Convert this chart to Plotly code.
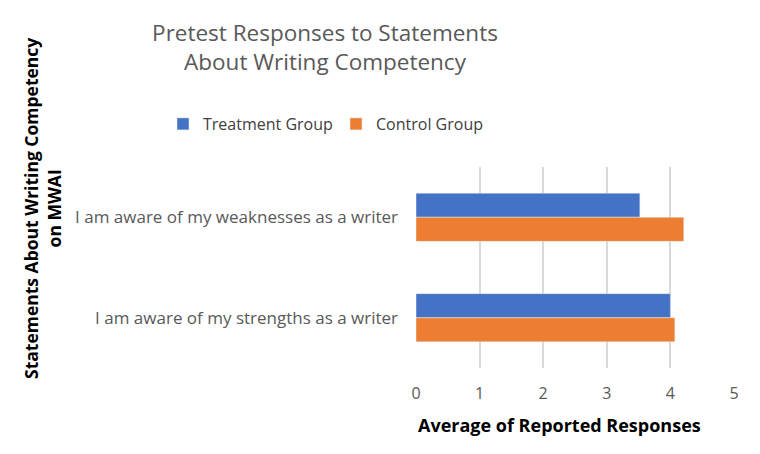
import plotly.graph_objects as go

statements = ["I am aware of my weaknesses as a writer",
              "I am aware of my strengths as a writer"]
treatment = [3.52, 4.0]
control = [4.21, 4.07]

blue = "#4472C4"
orange = "#ED7D31"
font = "Open Sans"

fig = go.Figure()
fig.add_trace(go.Bar(y=statements, x=treatment, orientation="h", name="Treatment Group",
                     marker={'color': blue}, legend="legend", showlegend=True))
fig.add_trace(go.Bar(y=statements, x=control, orientation="h", name="Control Group",
                     marker={'color': orange}, legend="legend2", showlegend=True))

legend_style = {'orientation': "h", 'xref': "container", 'yref': "container",
                'xanchor': "left", 'y': 1 - 124 / 454, 'yanchor': "middle",
                'font': {'size': 16, 'color': "#404040", 'family': font},
                'bgcolor': "rgba(0,0,0,0)", 'visible': True}

fig.update_layout(
    width=760, height=454, showlegend=True,
    margin={'l': 416, 'r': 26, 't': 167, 'b': 86},
    paper_bgcolor="white", plot_bgcolor="white",
    font={'family': font, 'color': "#595959", 'size': 16},
    barmode="group", bargap=0.52, bargroupgap=0,
    title={'text': "Pretest Responses to Statements<br>About Writing Competency",
           'xref': "container", 'x': 325 / 760, 'xanchor': "center",
           'yref': "container", 'y': 1 - 41 / 454, 'yanchor': "middle",
           'font': {'size': 22.5, 'color': "#595959", 'family': font}},
    legend=dict(legend_style, x=163 / 760),
    legend2=dict(legend_style, x=336 / 760),
    xaxis={'range': [0, 5], 'dtick': 1, 'showgrid': True, 'gridcolor': "#D9D9D9",
           'gridwidth': 1.5, 'zeroline': False, 'showline': False,
           'tickfont': {'size': 16, 'color': "#595959"}, 'ticks': "", 'ticklabelstandoff': 14},
    yaxis={'autorange': "reversed", 'showgrid': False, 'showline': False, 'ticks': "",
           'tickfont': {'size': 17, 'color': "#595959"}, 'ticklabelstandoff': 17},
    annotations=[
        dict(text="<b>Average of Reported Responses</b>", xref="paper", yref="paper",
             x=(559 - 416) / 318, y=(368 - 425) / 201, xanchor="center", yanchor="middle",
             showarrow=False, font={'size': 18, 'color': "black", 'family': font}),
        dict(text="<b>Statements About Writing Competency<br>on MWAI</b>", xref="paper",
             yref="paper", x=(42 - 416) / 318, y=(368 - 209) / 201, textangle=-90,
             xanchor="center", yanchor="middle",
             showarrow=False, font={'size': 17.5, 'color': "black", 'family': font}),
    ],
)

fig.write_html("out.html", config={'displayModeBar': False},
               post_script="document.body.style.margin='0';")
